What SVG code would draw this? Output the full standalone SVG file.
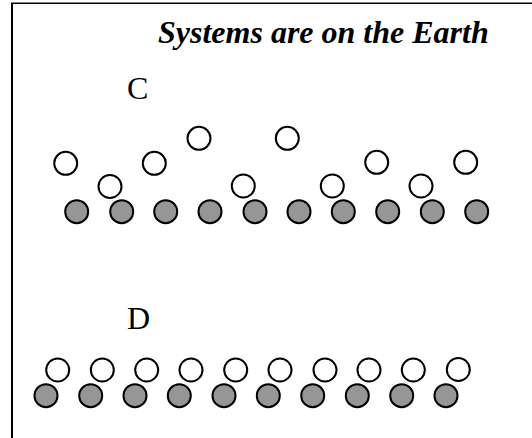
<svg xmlns="http://www.w3.org/2000/svg" width="532" height="438" viewBox="0 0 532 438">
<style>
.w{fill:#fff;stroke:#000;stroke-width:2}
.g{fill:#969696;stroke:#000;stroke-width:2}
.t{font-family:"Liberation Serif",serif;font-size:32px;fill:#000}
</style>
<rect width="532" height="438" fill="#fff"/>
<g id="frame">
<line x1="11" y1="3.3" x2="532" y2="3.3" stroke="#000" stroke-width="1.5"/>
<line x1="12" y1="3" x2="12" y2="438" stroke="#000" stroke-width="2"/>
</g>
<g id="title"><text class="t" x="158" y="43" font-weight="bold" font-style="italic">Systems are on the Earth</text></g>
<g id="labelC"><text class="t" x="127" y="99">C</text></g>
<g id="labelD"><text class="t" x="127" y="329">D</text></g>
<g id="systemC">
<circle class="w" cx="65.7" cy="163.3" r="11.5"/>
<circle class="w" cx="110" cy="186.5" r="11.5"/>
<circle class="w" cx="154.3" cy="163.3" r="11.5"/>
<circle class="w" cx="199" cy="138.3" r="11.5"/>
<circle class="w" cx="243.3" cy="186" r="11.5"/>
<circle class="w" cx="287.3" cy="138.3" r="11.5"/>
<circle class="w" cx="332.3" cy="186" r="11.5"/>
<circle class="w" cx="376.7" cy="162.3" r="11.5"/>
<circle class="w" cx="421" cy="186" r="11.5"/>
<circle class="w" cx="465.7" cy="162.3" r="11.5"/>
<circle class="g" cx="76.7" cy="211.7" r="11.5"/>
<circle class="g" cx="121.7" cy="211.7" r="11.5"/>
<circle class="g" cx="165.7" cy="211.7" r="11.5"/>
<circle class="g" cx="210" cy="211.7" r="11.5"/>
<circle class="g" cx="255" cy="211.7" r="11.5"/>
<circle class="g" cx="299" cy="211.7" r="11.5"/>
<circle class="g" cx="343.3" cy="211.7" r="11.5"/>
<circle class="g" cx="387.7" cy="211.7" r="11.5"/>
<circle class="g" cx="432.3" cy="211.7" r="11.5"/>
<circle class="g" cx="476.7" cy="211.7" r="11.5"/>
</g>
<g id="systemD">
<circle class="w" cx="57.7" cy="370" r="11.5"/>
<circle class="w" cx="102.3" cy="370" r="11.5"/>
<circle class="w" cx="146.7" cy="370" r="11.5"/>
<circle class="w" cx="191" cy="370" r="11.5"/>
<circle class="w" cx="235.7" cy="370" r="11.5"/>
<circle class="w" cx="280" cy="370" r="11.5"/>
<circle class="w" cx="325" cy="370" r="11.5"/>
<circle class="w" cx="369" cy="370" r="11.5"/>
<circle class="w" cx="413.3" cy="370" r="11.5"/>
<circle class="w" cx="458.3" cy="369.5" r="11.5"/>
<circle class="g" cx="46" cy="395.7" r="11.5"/>
<circle class="g" cx="90.7" cy="395.7" r="11.5"/>
<circle class="g" cx="135" cy="395.7" r="11.5"/>
<circle class="g" cx="179.3" cy="395.7" r="11.5"/>
<circle class="g" cx="224" cy="395.7" r="11.5"/>
<circle class="g" cx="268.3" cy="395.7" r="11.5"/>
<circle class="g" cx="312.7" cy="395.7" r="11.5"/>
<circle class="g" cx="357.3" cy="395.7" r="11.5"/>
<circle class="g" cx="401.7" cy="395.7" r="11.5"/>
<circle class="g" cx="446" cy="395.7" r="11.5"/>
</g>
</svg>
